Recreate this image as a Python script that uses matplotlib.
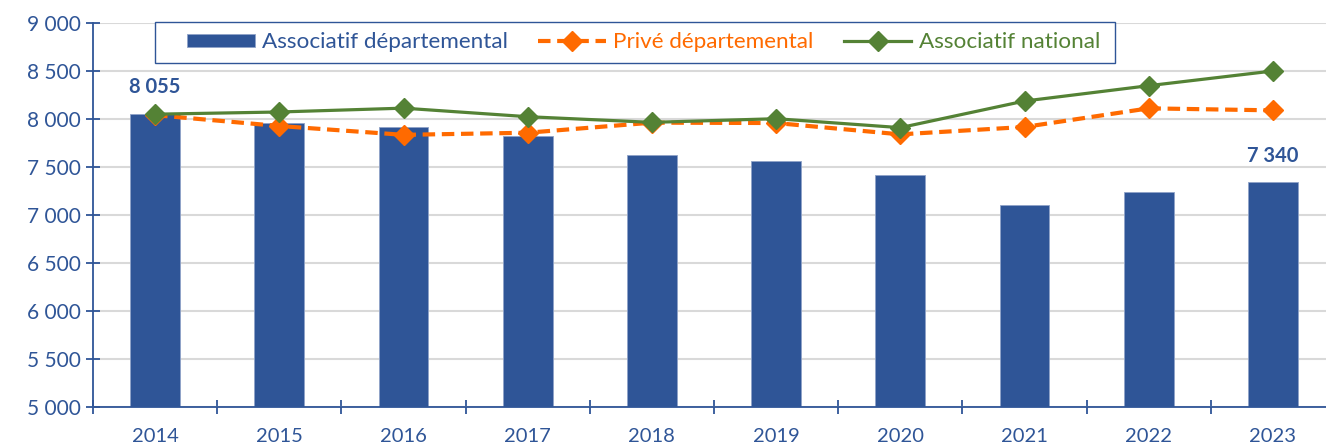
import matplotlib
matplotlib.use("Agg")
import matplotlib.pyplot as plt
from matplotlib.patches import Rectangle
import numpy as np

years = ["2014", "2015", "2016", "2017", "2018", "2019", "2020", "2021", "2022", "2023"]
assoc_dep = [8055, 7960, 7920, 7825, 7630, 7562, 7413, 7104, 7243, 7340]
prive_dep = [8040, 7927, 7835, 7857, 7962, 7958, 7840, 7917, 8111, 8090]
assoc_nat = [8050, 8073, 8113, 8024, 7965, 8003, 7910, 8187, 8347, 8500]
yticks = [5000, 5500, 6000, 6500, 7000, 7500, 8000, 8500, 9000]
ytick_labels = ["5 000", "5 500", "6 000", "6 500", "7 000", "7 500", "8 000", "8 500", "9 000"]

BLUE = "#2F5597"
ORANGE = "#FF6A00"
GREEN = "#548235"

plt.rcParams['font.family'] = ['Lato', 'DejaVu Sans']

W, H = 1326, 448
fig = plt.figure(figsize=(W/100, H/100), dpi=100)
ax = fig.add_axes([93/W, 1-407/H, (1335-93)/W, (407-23)/H])

x = np.arange(len(years))
h_bar = ax.bar(x, assoc_dep, width=0.4, color=BLUE, edgecolor="#8FA3C8", linewidth=0.6,
               label="Associatif départemental", zorder=2)
h_pr, = ax.plot(x, prive_dep, color=ORANGE, lw=3.0, ls=(0, (3, 1.6)), marker='D', ms=10,
                label="Privé départemental", zorder=3)
h_an, = ax.plot(x, assoc_nat, color=GREEN, lw=2.3, marker='D', ms=10,
                label="Associatif national", zorder=4)

for i in (0, len(years)-1):
    ax.annotate(f"{assoc_dep[i]:,}".replace(",", " "), (x[i], assoc_dep[i]),
                xytext=(0, 12), textcoords="offset points", ha="center", va="bottom",
                fontsize=14.5, fontweight="bold", color=BLUE)

ax.set_xlim(-0.5, len(years)-0.5)
ax.set_ylim(5000, 9000)
ax.set_yticks(yticks)
ax.set_yticklabels(ytick_labels)
ax.set_xticks(x)
ax.set_xticklabels(years)
ax.set_xticks(np.arange(len(years)+1)-0.5, minor=True)
ax.tick_params(axis='x', which='major', length=0, pad=15, labelsize=14.5, labelcolor=BLUE)
ax.tick_params(axis='x', which='minor', direction='inout', length=10, width=1.3, color=BLUE)
ax.tick_params(axis='y', which='major', direction='inout', length=10, width=1.3, color=BLUE,
               labelsize=15, labelcolor=BLUE, pad=4)
ax.yaxis.grid(True, color="#D9D9D9", lw=1.5, zorder=0)
ax.set_axisbelow(True)
for s in ("top", "right"):
    ax.spines[s].set_visible(False)
for s in ("left", "bottom"):
    ax.spines[s].set_color(BLUE)
    ax.spines[s].set_linewidth(1.3)

# legend box
fig.patches.append(Rectangle((155/W, 1-63/H), 960/W, 41/H, transform=fig.transFigure,
                             facecolor="white", edgecolor=BLUE, lw=1.0, zorder=5))
leg = fig.legend([h_bar, h_pr, h_an],
                 ["Associatif départemental", "Privé départemental", "Associatif national"],
                 loc="center left", bbox_to_anchor=(187/W, 1-42.5/H),
                 ncol=3, fontsize=16.2, frameon=False,
                 handlelength=3.0, handleheight=0.54, columnspacing=1.35,
                 borderaxespad=0, borderpad=0, handletextpad=0.33)
leg.set_zorder(6)
for t, c in zip(leg.get_texts(), [BLUE, ORANGE, GREEN]):
    t.set_color(c)

fig.savefig("out.png", dpi=100)
